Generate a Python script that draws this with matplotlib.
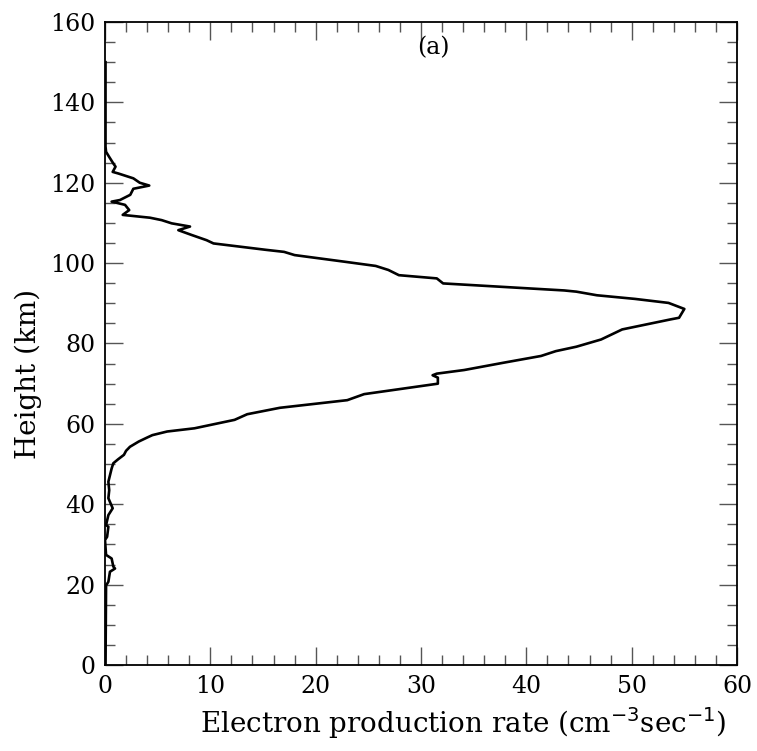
import matplotlib
matplotlib.use("Agg")
import matplotlib.pyplot as plt
from matplotlib.ticker import MultipleLocator

# Height (km) and electron production rate (cm^-3 s^-1)
height = [0.0, 19.8, 20.7, 23.2, 24.0, 24.5, 26.5, 27.4, 31.1, 31.9, 34.4, 34.8,
          37.3, 39.0, 41.5, 43.5, 45.6, 48.9, 50.2, 51.2, 52.3, 53.3, 54.3, 55.6,
          56.6, 57.2, 58.1, 58.9, 61.0, 62.4, 64.0, 65.9, 67.4, 70.0, 71.5, 72.1,
          72.5, 73.4, 75.2, 76.9, 78.1, 79.2, 81.0, 82.5, 83.5, 86.0, 86.4, 88.6,
          90.1, 91.1, 92.0, 92.9, 93.2, 94.95, 96.2, 97.0, 98.3, 99.3, 100.4, 102.0,
          102.8, 103.3, 104.9, 105.7, 107.0, 108.2, 109.1, 109.9, 110.7, 111.3,
          112.0, 113.2, 114.5, 115.3, 115.7, 117.0, 118.5, 119.3, 120.0, 121.1,
          122.3, 122.7, 124.0, 124.8, 126.5, 127.7, 129.0, 150.0]
rate = [0.05, 0.1, 0.32, 0.47, 0.95, 0.79, 0.63, 0.1, 0.0, 0.2, 0.32, 0.1,
        0.32, 0.73, 0.32, 0.4, 0.32, 0.63, 0.79, 1.25, 1.8, 2.0, 2.37, 3.2,
        4.0, 4.5, 5.9, 8.5, 12.3, 13.5, 16.6, 23.0, 24.6, 31.6, 31.6, 31.1,
        31.5, 34.1, 37.8, 41.4, 42.8, 44.75, 47.1, 48.3, 49.1, 53.7, 54.5, 55.0,
        53.5, 50.3, 46.7, 44.75, 43.6, 32.1, 31.5, 27.9, 26.9, 25.7, 22.6, 18.0,
        17.0, 15.3, 10.3, 9.65, 8.23, 6.96, 8.07, 6.33, 5.38, 4.27,
        1.68, 2.3, 1.9, 0.63, 1.42, 2.4, 2.69, 4.2, 3.3, 2.69,
        1.27, 0.73, 1.0, 0.79, 0.38, 0.1, 0.05, 0.05]

x_ticks = [0, 10, 20, 30, 40, 50, 60]
y_ticks = [0, 20, 40, 60, 80, 100, 120, 140, 160]

plt.rcParams['font.family'] = ['DejaVu Serif']

fig = plt.figure(figsize=(7.57, 7.51), dpi=100)
ax = fig.add_axes([105/757, 1 - 665/751, (737-105)/757, (665-22)/751])

ax.plot(rate, height, color='black', lw=1.9)

ax.set_xlim(0, 60)
ax.set_ylim(0, 160)
ax.set_xticks(x_ticks)
ax.set_yticks(y_ticks)
ax.xaxis.set_minor_locator(MultipleLocator(2))
ax.yaxis.set_minor_locator(MultipleLocator(5))
ax.tick_params(which='both', direction='in', top=True, right=True,
               labelsize=17, color='#555555')
ax.tick_params(which='major', length=13, width=1.0, pad=7)
ax.tick_params(which='minor', length=7, width=1.0)
for s in ax.spines.values():
    s.set_linewidth(1.3)

ax.set_xlabel('Electron production rate (cm$^{-3}$sec$^{-1}$)', fontsize=20,
              va='center')
ax.set_ylabel('Height (km)', fontsize=20, va='center')
ax.xaxis.set_label_coords(0.567, -0.09)
ax.yaxis.set_label_coords(-0.122, 0.453)
ax.text(31.2, 153.5, '(a)', fontsize=17, ha='center', va='center')

fig.savefig('out.png', dpi=100)
